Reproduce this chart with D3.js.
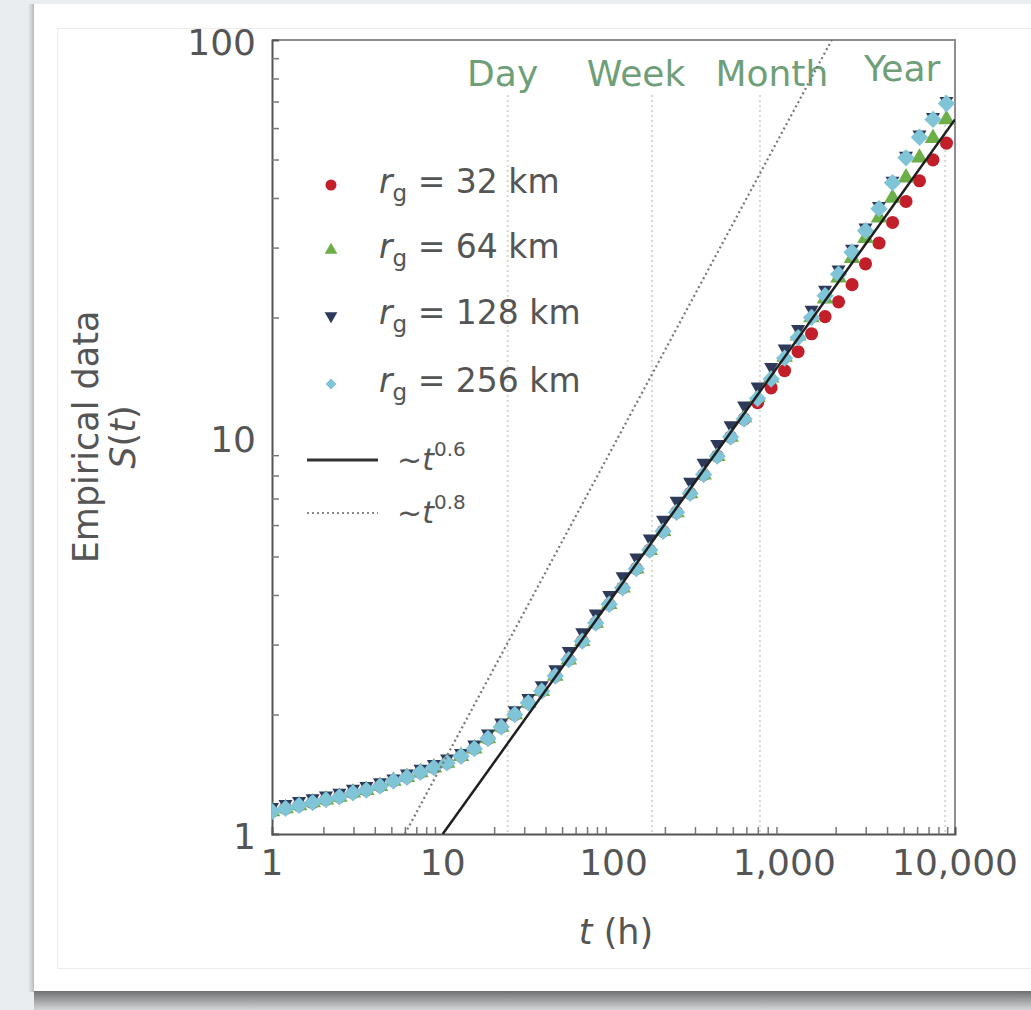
<!DOCTYPE html>
<html>
<head>
<meta charset="utf-8">
<script src="https://cdn.jsdelivr.net/npm/d3@7"></script>
<style>
  html, body { margin: 0; padding: 0; background: #e9edef; }
  svg { display: block; }
  text { font-family: "DejaVu Sans", sans-serif; }
</style>
</head>
<body>
<svg id="chart" width="1031" height="1010"></svg>
<script>
// Elapsed time t (hours), log-binned
const hours = [1, 1.20, 1.44, 1.73, 2.07, 2.48, 2.98, 3.57, 4.29, 5.14, 6.17, 7.40, 8.87,
  10.6, 12.8, 15.3, 18.4, 22.0, 26.4, 31.7, 38.0, 45.6, 54.7, 65.6, 78.7, 94.4,
  113, 136, 163, 195, 234, 281, 337, 405, 485, 582, 698, 838, 1005, 1205, 1445,
  1734, 2080, 2495, 2992, 3589, 4305, 5164, 6194, 7430, 8913];

// S(t) for each radius of gyration group
const s32 = [1.14, 1.16, 1.18, 1.20, 1.22, 1.24, 1.27, 1.29, 1.32, 1.36, 1.39, 1.43, 1.47,
  1.51, 1.57, 1.64, 1.74, 1.86, 2.00, 2.14, 2.29, 2.50, 2.75, 3.06, 3.40, 3.79,
  4.17, 4.66, 5.19, 5.79, 6.46, 7.21, 8.04, 8.95, 10.0, 11.1, 12.2, 13.3, 14.7, 16.4,
  18.2, 20.1, 21.9, 24.2, 27.3, 30.8, 34.7, 39.2, 44.2, 49.9, 55.0];
const s64 = [1.14, 1.16, 1.18, 1.20, 1.22, 1.24, 1.27, 1.29, 1.32, 1.36, 1.39, 1.43, 1.47,
  1.51, 1.57, 1.64, 1.74, 1.86, 2.00, 2.14, 2.29, 2.50, 2.75, 3.06, 3.40, 3.79,
  4.17, 4.66, 5.19, 5.79, 6.46, 7.21, 8.04, 8.95, 10.0, 11.2, 12.6, 14.1, 15.9, 18.0,
  20.0, 22.3, 25.2, 28.2, 31.7, 35.7, 40.0, 45.0, 50.5, 56.6, 63.1];
const s128 = [1.17, 1.19, 1.21, 1.23, 1.25, 1.27, 1.30, 1.32, 1.35, 1.38, 1.42, 1.46, 1.50,
  1.55, 1.60, 1.68, 1.79, 1.91, 2.05, 2.20, 2.37, 2.60, 2.89, 3.22, 3.59, 4.00,
  4.46, 4.97, 5.55, 6.19, 6.91, 7.71, 8.61, 9.60, 10.7, 12.0, 13.4, 15.0, 16.7, 18.7,
  20.9, 23.5, 26.4, 29.8, 33.7, 38.2, 44.2, 51.1, 57.8, 64.0, 70.2];
const s256 = [1.14, 1.16, 1.18, 1.20, 1.22, 1.24, 1.27, 1.29, 1.32, 1.36, 1.39, 1.43, 1.47,
  1.51, 1.57, 1.64, 1.74, 1.86, 2.00, 2.14, 2.29, 2.50, 2.75, 3.06, 3.40, 3.79,
  4.17, 4.66, 5.19, 5.79, 6.46, 7.21, 8.04, 8.95, 10.0, 11.1, 12.5, 14.0, 15.8, 17.8,
  20.0, 22.7, 25.7, 29.2, 33.1, 37.6, 43.7, 50.5, 56.9, 63.1, 69.2];

const seriesNames = ["32 km", "64 km", "128 km", "256 km"];

// Power-law guides: ~t^0.6 and ~t^0.8 (end points)
const fit06 = [[10, 1], [10000, 63.1]];
const fit08 = [[6, 1], [1897, 100]];
const fitLabels = ["0.6", "0.8"];

// Characteristic periods (hours)
const periodNames = ["Day", "Week", "Month", "Year"];
const periodHours = [24, 168, 720, 8760];

const xTickValues = [1, 10, 100, 1000, 10000];
const xTickLabels = ["1", "10", "100", "1,000", "10,000"];
const yTickValues = [1, 10, 100];
const yTickLabels = ["1", "10", "100"];

// ---- layout ----
const W = 1031, H = 1010;
const plot = { left: 272, right: 955, top: 40, bottom: 834 };
const periodLabelDx = [-5, -16, 12, -43];
const periodLabelY = [86, 86, 86, 81];
const textColor = "#555555";

const svg = d3.select("#chart");
const defs = svg.append("defs");

// card shadows
const sh = defs.append("linearGradient").attr("id", "shadowB").attr("x1", 0).attr("y1", 0).attr("x2", 0).attr("y2", 1);
sh.append("stop").attr("offset", "0%").attr("stop-color", "#707070");
sh.append("stop").attr("offset", "100%").attr("stop-color", "#d2d6d8");
const shL = defs.append("linearGradient").attr("id", "shadowL").attr("x1", 0).attr("y1", 0).attr("x2", 1).attr("y2", 0);
shL.append("stop").attr("offset", "0%").attr("stop-color", "#e9edef");
shL.append("stop").attr("offset", "100%").attr("stop-color", "#b9bcbe");

svg.append("rect").attr("x", 28).attr("y", 4).attr("width", 6).attr("height", 988).attr("fill", "url(#shadowL)");
svg.append("rect").attr("x", 34).attr("y", 991).attr("width", W - 34).attr("height", 19).attr("fill", "url(#shadowB)");
svg.append("rect").attr("x", 34).attr("y", 4).attr("width", W - 34).attr("height", 987).attr("fill", "#ffffff");
svg.append("rect").attr("x", 57.5).attr("y", 28.5).attr("width", W).attr("height", 940)
  .attr("fill", "none").attr("stroke", "#ececec").attr("stroke-width", 1);

// ---- scales ----
const x = d3.scaleLog().domain([1, 10000]).range([plot.left, plot.right]);
const y = d3.scaleLog().domain([1, 100]).range([plot.bottom, plot.top]);

defs.append("clipPath").attr("id", "plotClip").append("rect")
  .attr("x", plot.left).attr("y", plot.top)
  .attr("width", plot.right - plot.left).attr("height", plot.bottom - plot.top);

// period guides
const guides = svg.append("g");
periodHours.forEach((h, i) => {
  guides.append("line")
    .attr("x1", x(h)).attr("x2", x(h))
    .attr("y1", 95).attr("y2", plot.bottom)
    .attr("stroke", "#d3dccd").attr("stroke-width", 2)
    .attr("stroke-dasharray", "2,3");
  guides.append("text")
    .attr("x", x(h) + periodLabelDx[i]).attr("y", periodLabelY[i])
    .attr("text-anchor", "middle")
    .attr("font-size", 36)
    .attr("fill", "#6f9f78")
    .text(periodNames[i]);
});

// frame top / right
svg.append("path")
  .attr("d", `M${plot.left},${plot.top}H${plot.right}V${plot.bottom}`)
  .attr("fill", "none").attr("stroke", "#8d8d8d").attr("stroke-width", 2);

// axes (ticks point inward)
const minor = d => {
  const v = [];
  for (let e = d[0]; e < d[1]; e *= 10) for (let m = 2; m <= 9; m++) v.push(e * m);
  return v;
};
const xAxis = svg.append("g").attr("transform", `translate(0,${plot.bottom})`)
  .call(d3.axisBottom(x).tickValues(minor([1, 10000])).tickSize(-7).tickFormat(""));
const yAxis = svg.append("g").attr("transform", `translate(${plot.left},0)`)
  .call(d3.axisLeft(y).tickValues(minor([1, 100])).tickSize(-7).tickFormat(""));
[xAxis, yAxis].forEach(g => {
  g.select(".domain").attr("stroke", "#555").attr("stroke-width", 2);
  g.selectAll(".tick line").attr("stroke", "#777").attr("stroke-width", 1.5);
});

// tick labels
svg.append("g").selectAll("text").data(xTickValues).join("text")
  .attr("x", d => x(d)).attr("y", 862)
  .attr("dominant-baseline", "central").attr("text-anchor", "middle")
  .attr("font-size", 36).attr("fill", textColor)
  .text((d, i) => xTickLabels[i]);
svg.append("g").selectAll("text").data(yTickValues).join("text")
  .attr("x", 256).attr("y", d => y(d) + 2)
  .attr("dominant-baseline", "central").attr("text-anchor", "end")
  .attr("font-size", 36).attr("fill", textColor)
  .text((d, i) => yTickLabels[i]);

// axis titles
const xt = svg.append("text").attr("x", 616).attr("y", 944).attr("text-anchor", "middle")
  .attr("font-size", 35).attr("fill", textColor);
xt.append("tspan").attr("font-style", "italic").text("t");
xt.append("tspan").text(" (h)");

svg.append("text").attr("transform", "translate(98,437) rotate(-90)")
  .attr("text-anchor", "middle").attr("font-size", 35).attr("fill", textColor)
  .text("Empirical data");
const st = svg.append("text").attr("transform", "translate(135,437) rotate(-90)")
  .attr("text-anchor", "middle").attr("font-size", 35).attr("fill", textColor);
st.append("tspan").attr("font-style", "italic").text("S");
st.append("tspan").text("(");
st.append("tspan").attr("font-style", "italic").text("t");
st.append("tspan").text(")");

// power-law guide lines
const line = d3.line().x(d => x(d[0])).y(d => y(d[1]));
const fits = svg.append("g").attr("clip-path", "url(#plotClip)");
fits.append("path").datum(fit08).attr("d", line)
  .attr("fill", "none").attr("stroke", "#777").attr("stroke-width", 2.2).attr("stroke-dasharray", "2,3");

// markers
const colors = ["#c21f2b", "#6cae47", "#2d3a5a", "#80c4d8"];
const shapes = [
  d3.symbol(d3.symbolCircle, 135),
  d3.symbol(d3.symbolTriangle, 120),
  d3.symbol(d3.symbolTriangle, 85),
  d3.symbol(d3.symbolSquare, 150)
];
const rotations = [0, 0, 180, 45];
const seriesValues = [s32, s64, s128, s256];

const marks = svg.append("g").attr("clip-path", "url(#plotClip)");
seriesValues.forEach((vals, si) => {
  marks.append("g").selectAll("path")
    .data(hours.map((t, i) => [t, vals[i]]))
    .join("path")
    .attr("d", shapes[si])
    .attr("transform", d => `translate(${x(d[0])},${y(d[1])}) rotate(${rotations[si]})`)
    .attr("fill", colors[si]);
});

fits.raise();
fits.append("path").datum(fit06).attr("d", line)
  .attr("fill", "none").attr("stroke", "#1f1f1f").attr("stroke-width", 2.5);

// legend
const legend = svg.append("g");
const legendRowsY = [193, 258, 324, 392];
const legendShapes = [
  d3.symbol(d3.symbolCircle, 95),
  d3.symbol(d3.symbolTriangle, 70),
  d3.symbol(d3.symbolTriangle, 70),
  d3.symbol(d3.symbolSquare, 60)
];
seriesNames.forEach((name, i) => {
  const by = legendRowsY[i];
  legend.append("path").attr("d", legendShapes[i])
    .attr("transform", `translate(331,${by - 8}) rotate(${rotations[i]})`)
    .attr("fill", colors[i]);
  const t = legend.append("text").attr("x", 379).attr("y", by)
    .attr("font-size", 33).attr("fill", textColor);
  t.append("tspan").attr("font-style", "italic").text("r");
  t.append("tspan").attr("font-size", 23).attr("dy", 8).text("g");
  t.append("tspan").attr("dy", -8).text(" = " + name);
});

const fitStyles = [
  { stroke: "#333", width: 3, dash: null },
  { stroke: "#888", width: 2, dash: "2,3" }
];
const fitRowsY = [460, 513];
fitLabels.forEach((p, i) => {
  const fy = fitRowsY[i];
  legend.append("line").attr("x1", 307).attr("x2", 378).attr("y1", fy).attr("y2", fy)
    .attr("stroke", fitStyles[i].stroke).attr("stroke-width", fitStyles[i].width)
    .attr("stroke-dasharray", fitStyles[i].dash);
  const t = legend.append("text").attr("x", 397).attr("y", fy + 10)
    .attr("font-size", 30).attr("fill", textColor);
  t.append("tspan").text("~");
  t.append("tspan").attr("font-style", "italic").text("t");
  t.append("tspan").attr("font-size", 20).attr("dy", -14).text(p);
});
</script>
</body>
</html>
